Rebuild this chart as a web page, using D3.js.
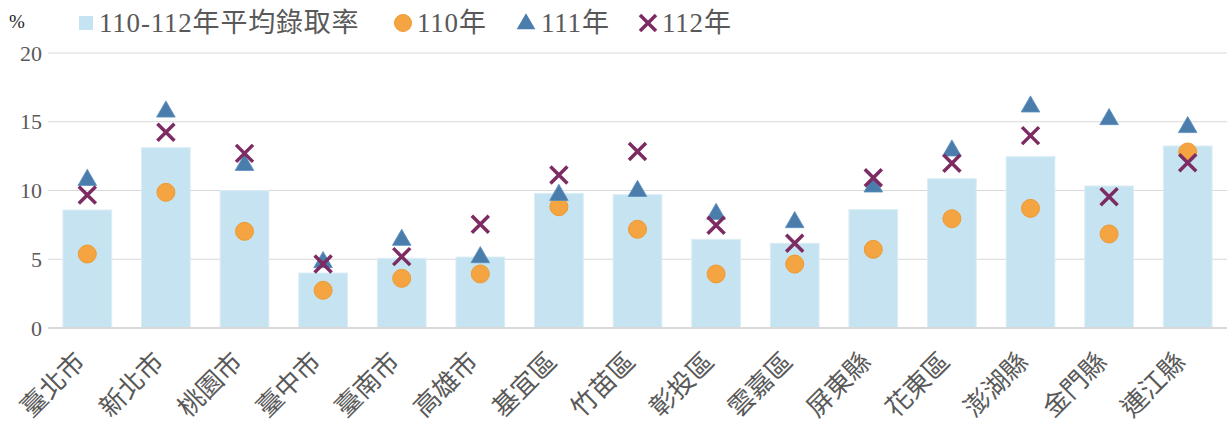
<!DOCTYPE html>
<html>
<head>
<meta charset="utf-8">
<script src="https://cdn.jsdelivr.net/npm/d3@7"></script>
</head>
<body style="margin:0; background:#fff">
<script>
// Data
const categories = ["臺北市", "新北市", "桃園市", "臺中市", "臺南市", "高雄市", "基宜區", "竹苗區",
  "彰投區", "雲嘉區", "屏東縣", "花東區", "澎湖縣", "金門縣", "連江縣"];
const avgRate = [8.58, 13.11, 9.99, 4.0, 5.07, 5.16, 9.79, 9.7, 6.45, 6.16, 8.61, 10.86, 12.46, 10.33, 13.24];
const y110 = [5.38, 9.87, 7.03, 2.74, 3.61, 3.93, 8.82, 7.18, 3.93, 4.65, 5.72, 7.95, 8.7, 6.84, 12.8];
const y111 = [10.76, 15.73, 11.85, 4.78, 6.4, 5.14, 9.67, 9.96, 8.29, 7.69, 10.28, 12.9, 16.1, 15.18, 14.6];
const y112 = [9.67, 14.23, 12.7, 4.65, 5.19, 7.54, 11.13, 12.83, 7.47, 6.16, 10.93, 11.98, 13.99, 9.55, 12.02];
const yTicks = [0, 5, 10, 15, 20];
const legendLabels = ["110-112年平均錄取率", "110年", "111年", "112年"];

const W = 1227, H = 425;
const margin = { top: 53, right: 0, bottom: 97, left: 48 };
const width = W - margin.left - margin.right;
const height = H - margin.top - margin.bottom;

const FONT = "'Liberation Serif', 'Times New Roman', 'Noto Sans CJK TC', serif";
const TEXT = "#595959";
const colors = { bar: "#c6e3f1", circle: "#f4a441", tri: "#4a7dab", cross: "#7c2c62" };

const svg = d3.select("body").append("svg")
  .attr("width", W).attr("height", H);

const g = svg.append("g")
  .attr("transform", "translate(" + margin.left + "," + margin.top + ")");

const x = d3.scaleBand().domain(categories).range([0, width]).paddingInner(0.38).paddingOuter(0.19);
const y = d3.scaleLinear().domain([0, 20]).range([height, 0]);

// Gridlines
g.selectAll(".grid")
  .data(yTicks.filter(d => d > 0))
  .enter().append("line")
  .attr("x1", 0).attr("x2", width)
  .attr("y1", d => y(d)).attr("y2", d => y(d))
  .attr("stroke", "#d9d9d9").attr("stroke-width", 1);

// Y tick labels
g.selectAll(".ytick")
  .data(yTicks)
  .enter().append("text")
  .attr("x", -6).attr("y", d => y(d))
  .attr("dy", "0.35em")
  .attr("text-anchor", "end")
  .style("font-family", FONT).style("fill", TEXT)
  .style("font-size", "22px")
  .text(d => d);

svg.append("text")
  .attr("x", 9).attr("y", 28)
  .style("font-family", FONT).style("fill", "#222")
  .style("font-size", "19px")
  .text("%");

// Bars
g.selectAll(".bar")
  .data(avgRate)
  .enter().append("rect")
  .attr("x", (d, i) => x(categories[i]))
  .attr("width", x.bandwidth())
  .attr("y", d => y(d))
  .attr("height", d => y(0) - y(d))
  .attr("fill", colors.bar)
  .attr("stroke", "#dcedf6").attr("stroke-width", 1);

// Axis line at 0
g.append("line")
  .attr("x1", 0).attr("x2", width)
  .attr("y1", y(0)).attr("y2", y(0))
  .attr("stroke", "#d9d9d9").attr("stroke-width", 2);

const cx = i => x(categories[i]) + x.bandwidth() / 2;

// 110 circles
g.selectAll(".c110")
  .data(y110)
  .enter().append("circle")
  .attr("cx", (d, i) => cx(i))
  .attr("cy", d => y(d))
  .attr("r", 9)
  .attr("fill", colors.circle)
  .attr("stroke", "#ef9a30").attr("stroke-width", 1);

// 111 triangles
const tri = d3.symbol().type(d3.symbolTriangle).size(150);
g.selectAll(".t111")
  .data(y111)
  .enter().append("path")
  .attr("d", tri)
  .attr("transform", (d, i) => "translate(" + cx(i) + "," + y(d) + ")")
  .attr("fill", colors.tri)
  .attr("stroke", "#5b8fbf").attr("stroke-width", 0.8);

// 112 crosses
function crossPath(s) {
  return "M" + (-s) + "," + (-s) + "L" + s + "," + s + "M" + (-s) + "," + s + "L" + s + "," + (-s);
}
g.selectAll(".x112")
  .data(y112)
  .enter().append("path")
  .attr("d", crossPath(8.5))
  .attr("transform", (d, i) => "translate(" + cx(i) + "," + y(d) + ")")
  .attr("stroke", colors.cross).attr("stroke-width", 3.5)
  .attr("fill", "none");

// X labels
g.selectAll(".xlabel")
  .data(categories)
  .enter().append("text")
  .attr("transform", d => "translate(" + (x(d) + x.bandwidth() / 2 - 7) + "," + (height + 29) + ") rotate(-45)")
  .attr("text-anchor", "end")
  .attr("dy", "0.35em")
  .style("font-family", FONT).style("fill", TEXT)
  .style("font-size", "26px")
  .text(d => d);

// Legend
const leg = svg.append("g");
const ly = 23;
const lfs = "27px";
function legText(xp, s) {
  leg.append("text").attr("x", xp).attr("y", ly).attr("dy", "0.35em")
    .style("font-family", FONT).style("fill", TEXT).style("font-size", lfs)
    .style("letter-spacing", "0.8px").text(s);
}
leg.append("rect").attr("x", 79).attr("y", ly - 7).attr("width", 14).attr("height", 14).attr("fill", colors.bar);
legText(99, legendLabels[0]);

leg.append("circle").attr("cx", 403).attr("cy", ly).attr("r", 8.5).attr("fill", colors.circle).attr("stroke", "#ef9a30");
legText(417, legendLabels[1]);

leg.append("path").attr("d", tri).attr("transform", "translate(526," + (ly + 1) + ")").attr("fill", colors.tri);
legText(541, legendLabels[2]);

leg.append("path").attr("d", crossPath(8)).attr("transform", "translate(648," + ly + ")")
  .attr("stroke", colors.cross).attr("stroke-width", 3.5).attr("fill", "none");
legText(662, legendLabels[3]);
</script>
</body>
</html>
